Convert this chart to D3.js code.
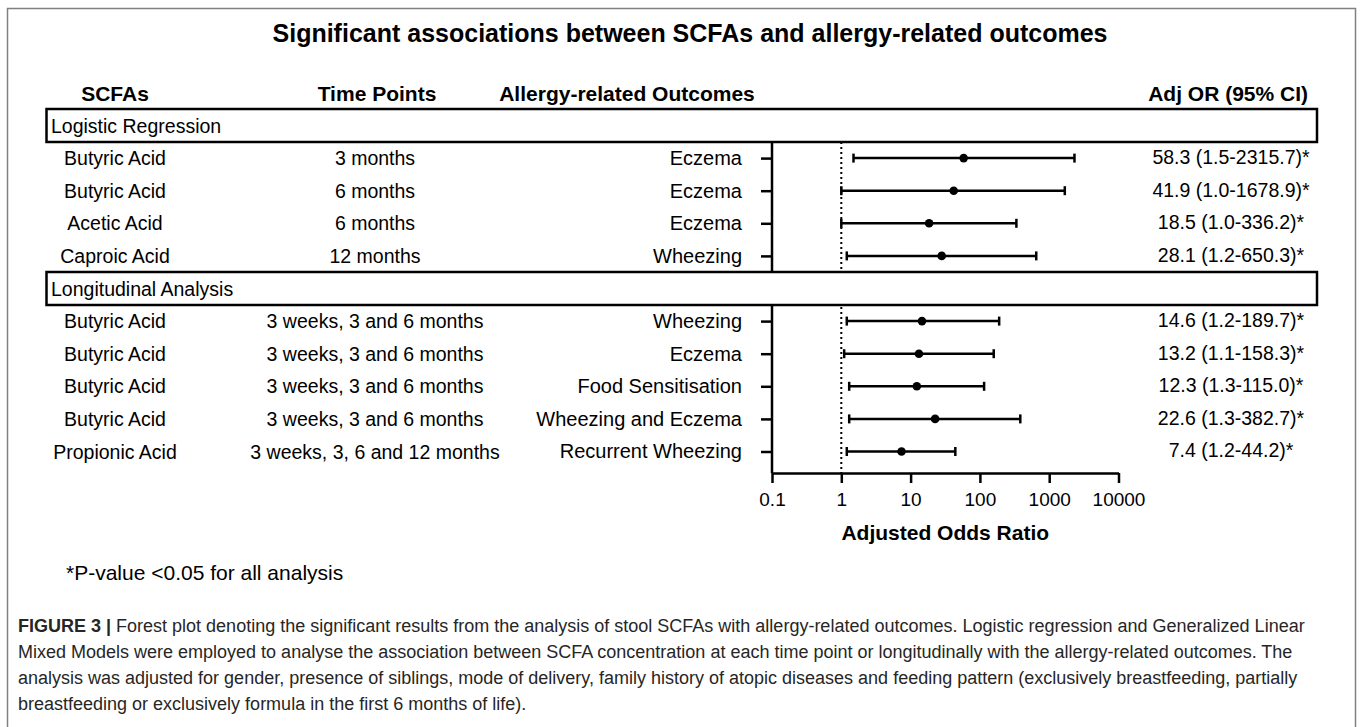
<!DOCTYPE html>
<meta charset="utf-8">
<html>
<head>
<script src="https://cdn.jsdelivr.net/npm/d3@7"></script>
<style>
body { margin: 0; background: #fff; }
text { font-family: "Liberation Sans", Arial, sans-serif; fill: #000; }
.hdr { font-weight: bold; font-size: 21px; }
.row { font-size: 19.5px; }
.cap { font-size: 18px; fill: #262626; }
</style>
</head>
<body>
<div id="my_dataviz"></div>
<script>

// the data
var sections = ["Logistic Regression", "Longitudinal Analysis"];
var sectionSize = [4, 5];
var scfas = ["Butyric Acid", "Butyric Acid", "Acetic Acid", "Caproic Acid",
             "Butyric Acid", "Butyric Acid", "Butyric Acid", "Butyric Acid", "Propionic Acid"];
var timePoints = ["3 months", "6 months", "6 months", "12 months",
                  "3 weeks, 3 and 6 months", "3 weeks, 3 and 6 months", "3 weeks, 3 and 6 months",
                  "3 weeks, 3 and 6 months", "3 weeks, 3, 6 and 12 months"];
var outcomes = ["Eczema", "Eczema", "Eczema", "Wheezing",
                "Wheezing", "Eczema", "Food Sensitisation", "Wheezing and Eczema", "Recurrent Wheezing"];
var oddsRatio = [58.3, 41.9, 18.5, 28.1, 14.6, 13.2, 12.3, 22.6, 7.4];
var ciLow = [1.5, 1.0, 1.0, 1.2, 1.2, 1.1, 1.3, 1.3, 1.2];
var ciHigh = [2315.7, 1678.9, 336.2, 650.3, 189.7, 158.3, 115.0, 382.7, 44.2];
var xTicks = [0.1, 1, 10, 100, 1000, 10000];
var xTickLabels = ["0.1", "1", "10", "100", "1000", "10000"];

var captionLines = [
  "Forest plot denoting the significant results from the analysis of stool SCFAs with allergy-related outcomes. Logistic regression and Generalized Linear",
  "Mixed Models were employed to analyse the association between SCFA concentration at each time point or longitudinally with the allergy-related outcomes. The",
  "analysis was adjusted for gender, presence of siblings, mode of delivery, family history of atopic diseases and feeding pattern (exclusively breastfeeding, partially",
  "breastfeeding or exclusively formula in the first 6 months of life)."
];

var width = 1360, height = 727;

var svg = d3.select("#my_dataviz")
  .append("svg")
  .attr("width", width)
  .attr("height", height);

// outer frame
svg.append("rect")
  .attr("x", 7.5).attr("y", 8.5)
  .attr("width", 1348).attr("height", 760)
  .attr("fill", "none")
  .attr("stroke", "#808080")
  .attr("stroke-width", 1.5);

// title
svg.append("text")
  .attr("x", 690).attr("y", 42)
  .attr("text-anchor", "middle")
  .style("font-weight", "bold")
  .style("font-size", "25px")
  .text("Significant associations between SCFAs and allergy-related outcomes");

// build slots: one for each section box, then its rows
var slots = [];
var r = 0;
sections.forEach(function(s, si) {
  slots.push({type: "section", name: s});
  for (var k = 0; k < sectionSize[si]; k++) {
    slots.push({type: "row", i: r});
    r++;
  }
});
slots.forEach(function(d, i) { d.slot = i; });
var rows = slots.filter(function(d) { return d.type == "row"; });
var boxes = slots.filter(function(d) { return d.type == "section"; });

var y = d3.scaleLinear()
  .domain([0, slots.length - 1])
  .range([125.5, 451.5]);

var x = d3.scaleLog()
  .domain([0.1, 10000])
  .range([772, 1118.5]);

var axisY = 473;
var boxH = 33;

// column headers
var headers = [
  {t: "SCFAs", x: 115, a: "middle"},
  {t: "Time Points", x: 377, a: "middle"},
  {t: "Allergy-related Outcomes", x: 627, a: "middle"},
  {t: "Adj OR (95% CI)", x: 1308, a: "end"}
];
svg.selectAll(".hdr")
  .data(headers)
  .enter()
  .append("text")
  .attr("class", "hdr")
  .attr("x", function(d) { return d.x; })
  .attr("y", 93)
  .attr("dy", "0.36em")
  .attr("text-anchor", function(d) { return d.a; })
  .text(function(d) { return d.t; });

// Y axis (outcome labels are the tick labels)
var yAxis = svg.append("g")
  .attr("transform", "translate(" + x(0.1) + ",0)")
  .call(d3.axisLeft(y)
    .tickValues(rows.map(function(d) { return d.slot; }))
    .tickFormat(function(v) { return outcomes[slots[v].i]; })
    .tickSize(11)
    .tickPadding(19));
yAxis.select(".domain").remove();
yAxis.selectAll("line").attr("stroke-width", 2.5);
yAxis.selectAll("text")
  .attr("class", "row")
  .style("font-size", "20px")
  .attr("fill", "#000");
yAxis.append("line")
  .attr("x1", 0).attr("x2", 0)
  .attr("y1", y(0) + boxH / 2).attr("y2", axisY)
  .attr("stroke", "#000")
  .attr("stroke-width", 2.5);

// dotted reference line at 1
svg.append("line")
  .attr("x1", x(1)).attr("x2", x(1))
  .attr("y1", y(0) + boxH / 2).attr("y2", axisY)
  .attr("stroke", "#000")
  .attr("stroke-width", 2)
  .attr("stroke-dasharray", "2,3");

// X axis
var xAxis = svg.append("g")
  .attr("transform", "translate(0," + axisY + ")")
  .call(d3.axisBottom(x)
    .tickValues(xTicks)
    .tickFormat(function(d, i) { return xTickLabels[i]; })
    .tickSize(10)
    .tickSizeOuter(0)
    .tickPadding(10));
xAxis.select(".domain").attr("stroke-width", 2.5);
xAxis.selectAll("line").attr("stroke-width", 2.5);
xAxis.selectAll("text").style("font-size", "19px").attr("fill", "#000");

svg.append("text")
  .attr("class", "hdr")
  .attr("x", (x(0.1) + x(10000)) / 2)
  .attr("y", 532)
  .attr("dy", "0.36em")
  .attr("text-anchor", "middle")
  .text("Adjusted Odds Ratio");

// section boxes (drawn on top of the axis line)
var bx = svg.selectAll(".box")
  .data(boxes)
  .enter()
  .append("g")
  .attr("class", "box");
bx.append("rect")
  .attr("x", 46.5)
  .attr("y", function(d) { return y(d.slot) - boxH / 2; })
  .attr("width", 1317 - 46.5)
  .attr("height", boxH)
  .attr("fill", "#fff")
  .attr("stroke", "#000")
  .attr("stroke-width", 2.5);
bx.append("text")
  .attr("class", "row")
  .attr("x", 51)
  .attr("y", function(d) { return y(d.slot); })
  .attr("dy", "0.36em")
  .text(function(d) { return d.name; });

// left text columns
var rg = svg.selectAll(".rowg")
  .data(rows)
  .enter()
  .append("g")
  .attr("class", "rowg")
  .attr("transform", function(d) { return "translate(0," + y(d.slot) + ")"; });

rg.append("text")
  .attr("class", "row")
  .attr("x", 115)
  .attr("dy", "0.36em")
  .attr("text-anchor", "middle")
  .text(function(d) { return scfas[d.i]; });

rg.append("text")
  .attr("class", "row")
  .attr("x", 375)
  .attr("dy", "0.36em")
  .attr("text-anchor", "middle")
  .text(function(d) { return timePoints[d.i]; });

// confidence intervals
rg.append("line")
  .attr("x1", function(d) { return x(ciLow[d.i]); })
  .attr("x2", function(d) { return x(ciHigh[d.i]); })
  .attr("stroke", "#000")
  .attr("stroke-width", 2.5);
rg.append("line")
  .attr("x1", function(d) { return x(ciLow[d.i]); })
  .attr("x2", function(d) { return x(ciLow[d.i]); })
  .attr("y1", -4.5).attr("y2", 4.5)
  .attr("stroke", "#000")
  .attr("stroke-width", 2.5);
rg.append("line")
  .attr("x1", function(d) { return x(ciHigh[d.i]); })
  .attr("x2", function(d) { return x(ciHigh[d.i]); })
  .attr("y1", -4.5).attr("y2", 4.5)
  .attr("stroke", "#000")
  .attr("stroke-width", 2.5);
rg.append("circle")
  .attr("cx", function(d) { return x(oddsRatio[d.i]); })
  .attr("r", 4.3)
  .attr("fill", "#000");

// OR (CI) labels
rg.append("text")
  .attr("class", "row")
  .attr("x", 1231)
  .attr("dy", "0.3em")
  .attr("text-anchor", "middle")
  .text(function(d) {
    return oddsRatio[d.i].toFixed(1) + " (" + ciLow[d.i].toFixed(1) + "-" + ciHigh[d.i].toFixed(1) + ")*";
  });

// footnote
svg.append("text")
  .attr("class", "row")
  .attr("x", 66)
  .attr("y", 572)
  .attr("dy", "0.36em")
  .style("font-size", "21px")
  .text("*P-value <0.05 for all analysis");

// caption
var cap = svg.selectAll(".cap")
  .data(captionLines)
  .enter()
  .append("text")
  .attr("class", "cap")
  .attr("x", 18)
  .attr("y", function(d, i) { return 626 + i * 26; })
  .attr("dy", "0.36em");
cap.filter(function(d, i) { return i == 0; })
  .append("tspan")
  .style("font-weight", "bold")
  .text("FIGURE 3 | ");
cap.append("tspan").text(function(d) { return d; });

</script>
</body>
</html>
